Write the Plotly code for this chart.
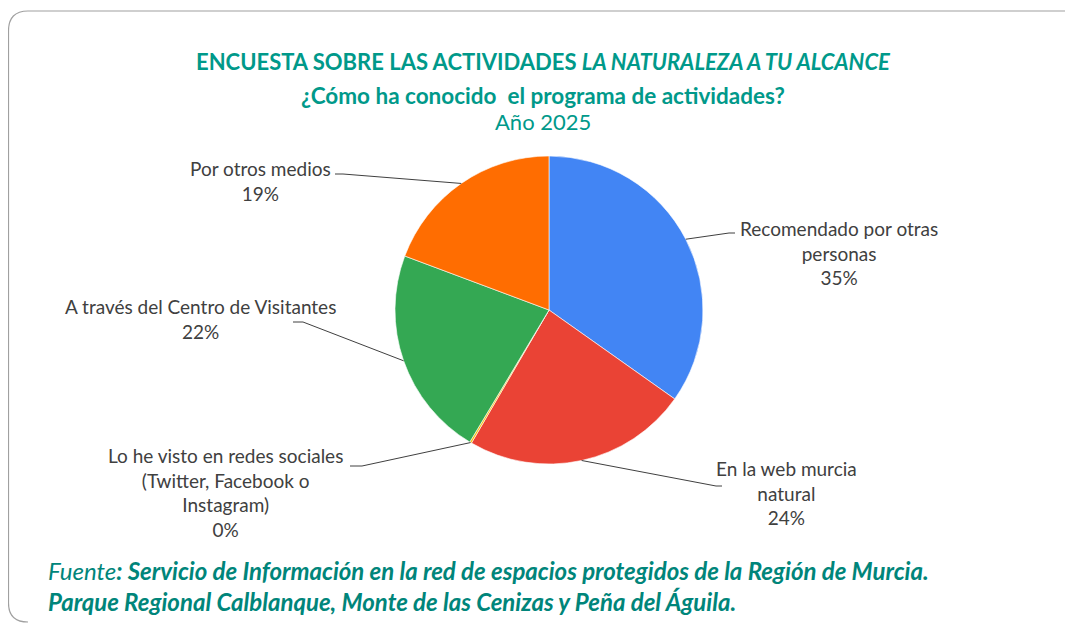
import math
import plotly.graph_objects as go

# ---- data ----
categories = [
    "Recomendado por otras<br>personas",
    "En la web murcia<br>natural",
    "Lo he visto en redes sociales<br>(Twitter, Facebook o<br>Instagram)",
    "A través del Centro de Visitantes",
    "Por otros medios",
]
values = [34.8, 23.6, 0.2, 22.1, 19.3]
colors = ["#4285f4", "#ea4335", "#fbbc04", "#34a853", "#ff6d01"]

# ---- layout constants (pixels, in page coordinates) ----
OFF = 8                      # default body margin of the html page
W, H = 1073 - OFF, 623 - OFF
CX, CY, R = 549, 310, 154
# label text centers (x, y of first line) and leader-line end points
label_pos = [(839, 228), (786, 468), (225, 455), (200, 306), (260, 168)]
line_ends = [((735, 233), (729, 233)), ((722, 486), (716, 486)),
             ((350, 466), (362, 466)), ((293, 322), (303, 322)),
             ((335, 174), (343, 174))]
LINE_H = 24.5


def px(x):
    return (x - OFF) / W


def py(y):
    return 1 - (y - OFF) / H


fig = go.Figure()
fig.add_trace(go.Pie(
    labels=[c.replace("<br>", " ") for c in categories],
    values=values,
    sort=False,
    direction="clockwise",
    rotation=0,
    marker=dict(colors=colors, line=dict(color="white", width=0.6)),
    textinfo="none",
    hoverinfo="label+percent",
    showlegend=False,
    domain=dict(x=[px(CX - R), px(CX + R)], y=[py(CY + R), py(CY - R)]),
))

total = sum(values)
shapes = []
annotations = []
cum = 0.0
for cat, v, (lx, ly), ((ex, ey), (hx, hy)) in zip(categories, values, label_pos, line_ends):
    mid = (cum + v / 2) / total * 2 * math.pi
    cum += v
    sx = CX + R * math.sin(mid)
    sy = CY - R * math.cos(mid)
    path = f"M {px(sx)},{py(sy)} L {px(hx)},{py(hy)} L {px(ex)},{py(ey)}"
    shapes.append(dict(type="path", xref="paper", yref="paper", path=path,
                       line=dict(color="#404040", width=1)))
    text = f"{cat}<br>{round(v / total * 100)}%"
    annotations.append(dict(
        x=px(lx), y=py(ly - LINE_H / 2 - 1), xref="paper", yref="paper",
        xanchor="center", yanchor="top", showarrow=False, align="center",
        text=text, font=dict(family="Lato", size=19, color="#404040"),
    ))

# frame (rounded corners)
frame = (f"M {px(1080)},{py(11)} L {px(28)},{py(11)} Q {px(8.5)},{py(11)} {px(8.5)},{py(31)} "
         f"L {px(8.5)},{py(603)} Q {px(8.5)},{py(622)} {px(28)},{py(622)}")
shapes.append(dict(type="path", xref="paper", yref="paper", path=frame,
                   line=dict(color="#a0a0a0", width=1.2)))

teal = "#00998a"
annotations += [
    dict(x=px(543), y=py(61), xref="paper", yref="paper", showarrow=False,
         xanchor="center", yanchor="middle",
         text="<b>ENCUESTA SOBRE LAS ACTIVIDADES <i>LA NATURALEZA A TU ALCANCE</i></b>",
         font=dict(family="Lato", size=22, color=teal)),
    dict(x=px(543), y=py(95), xref="paper", yref="paper", showarrow=False,
         xanchor="center", yanchor="middle",
         text="<b>¿Cómo ha conocido  el programa de actividades?</b>",
         font=dict(family="Lato", size=22.5, color=teal)),
    dict(x=px(543), y=py(122), xref="paper", yref="paper", showarrow=False,
         xanchor="center", yanchor="middle",
         text="Año 2025",
         font=dict(family="Lato", size=22, color=teal)),
    dict(x=px(46), y=py(570), xref="paper", yref="paper", showarrow=False,
         xanchor="left", yanchor="middle",
         text="<i>Fuente</i><b><i>: Servicio de Información en la red de espacios protegidos de la Región de Murcia.</i></b>",
         font=dict(family="Lato", size=24, color="#00857a")),
    dict(x=px(46), y=py(601), xref="paper", yref="paper", showarrow=False,
         xanchor="left", yanchor="middle",
         text="<b><i>Parque Regional Calblanque, Monte de las Cenizas y Peña del Águila.</i></b>",
         font=dict(family="Lato", size=24, color="#00857a")),
]

fig.update_layout(
    width=W, height=H,
    margin=dict(l=0, r=0, t=0, b=0),
    paper_bgcolor="white", plot_bgcolor="white",
    shapes=shapes, annotations=annotations,
)

fig.write_html("out.html")
